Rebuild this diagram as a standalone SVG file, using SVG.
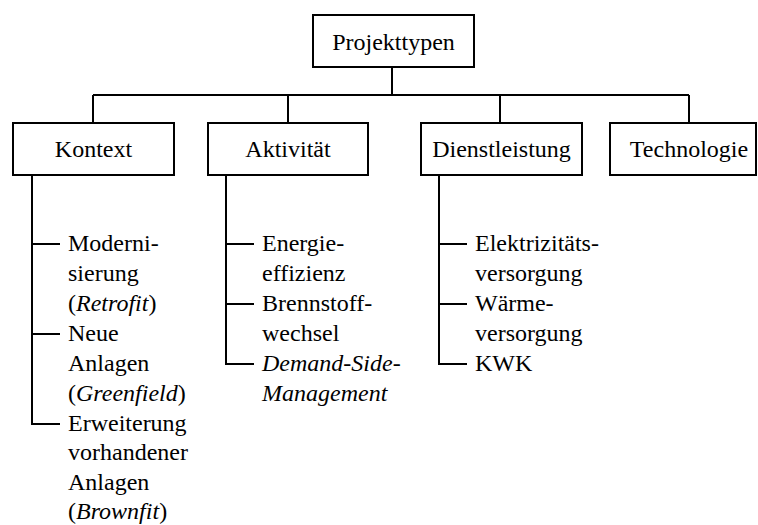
<svg xmlns="http://www.w3.org/2000/svg" width="758" height="525" viewBox="0 0 758 525">
<style>
.box{fill:#fff;stroke:#000;stroke-width:2}
.ln{fill:none;stroke:#000;stroke-width:2}
</style>
<rect width="758" height="525" fill="#fff"/>
<g id="connectors" class="ln">
<path d="M392,67 V95 M93,95 H689 M93,95 V123 M288,95 V123 M500,95 V123 M689,95 V123"/>
<path d="M32,175 V424 H60 M32,244 H60 M32,334 H60"/>
<path d="M226,175 V364 H254 M226,244 H254 M226,304 H254"/>
<path d="M439,175 V364 H467 M439,244 H467 M439,304 H467"/>
</g>
<g id="projekttypen">
<rect class="box" x="313" y="15" width="161" height="52"/>
<text font-family="Times New Roman" font-size="24" text-anchor="middle" x="393.5" y="50">Projekttypen</text>
</g>
<g id="kontext">
<rect class="box" x="13" y="123" width="161" height="52"/>
<text font-family="Times New Roman" font-size="24" text-anchor="middle" x="93.5" y="157">Kontext</text>
</g>
<g id="aktivitaet">
<rect class="box" x="208" y="123" width="160" height="52"/>
<text font-family="Times New Roman" font-size="24" text-anchor="middle" x="288" y="157">Aktivität</text>
</g>
<g id="dienstleistung">
<rect class="box" x="421" y="123" width="161" height="52"/>
<text font-family="Times New Roman" font-size="24" text-anchor="middle" x="501.5" y="157">Dienstleistung</text>
</g>
<g id="technologie">
<rect class="box" x="610" y="123" width="146" height="52"/>
<text font-family="Times New Roman" font-size="24" text-anchor="middle" x="689" y="157">Technologie</text>
</g>
<g id="kontext-items">
<text font-family="Times New Roman" font-size="24" x="68" y="251">Moderni-</text>
<text font-family="Times New Roman" font-size="24" x="68" y="281">sierung</text>
<text font-family="Times New Roman" font-size="24" x="68" y="311">(<tspan font-style="italic">Retrofit</tspan>)</text>
<text font-family="Times New Roman" font-size="24" x="68" y="341">Neue</text>
<text font-family="Times New Roman" font-size="24" x="68" y="371">Anlagen</text>
<text font-family="Times New Roman" font-size="24" x="68" y="401">(<tspan font-style="italic">Greenfield</tspan>)</text>
<text font-family="Times New Roman" font-size="24" x="68" y="431">Erweiterung</text>
<text font-family="Times New Roman" font-size="24" x="68" y="460">vorhandener</text>
<text font-family="Times New Roman" font-size="24" x="68" y="490">Anlagen</text>
<text font-family="Times New Roman" font-size="24" x="68" y="519">(<tspan font-style="italic">Brownfit</tspan>)</text>
</g>
<g id="aktivitaet-items">
<text font-family="Times New Roman" font-size="24" x="262" y="251">Energie-</text>
<text font-family="Times New Roman" font-size="24" x="262" y="281">effizienz</text>
<text font-family="Times New Roman" font-size="24" x="262" y="311">Brennstoff-</text>
<text font-family="Times New Roman" font-size="24" x="262" y="341">wechsel</text>
<text font-family="Times New Roman" font-size="24" font-style="italic" x="262" y="371">Demand-Side-</text>
<text font-family="Times New Roman" font-size="24" font-style="italic" x="262" y="401">Management</text>
</g>
<g id="dienstleistung-items">
<text font-family="Times New Roman" font-size="24" x="475" y="251">Elektrizitäts-</text>
<text font-family="Times New Roman" font-size="24" x="475" y="281">versorgung</text>
<text font-family="Times New Roman" font-size="24" x="475" y="311">Wärme-</text>
<text font-family="Times New Roman" font-size="24" x="475" y="341">versorgung</text>
<text font-family="Times New Roman" font-size="24" x="475" y="371">KWK</text>
</g>
</svg>
